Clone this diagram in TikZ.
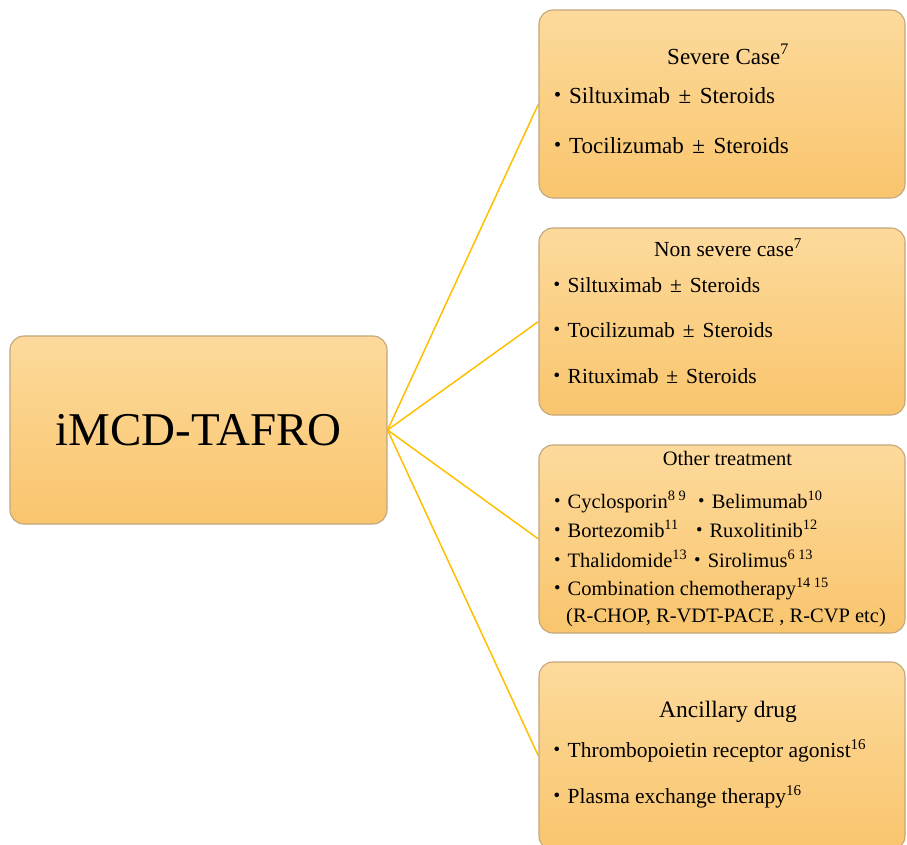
\documentclass[tikz,border=0pt]{standalone}
\usepackage{fontspec}
\setmainfont{Liberation Serif}
\newfontfamily\cjk{Noto Sans CJK JP}
\usetikzlibrary{backgrounds}
\newcommand\bul{{\cjk ・}}
\newcommand\pmx{\hspace{0.12em}±\hspace{0.12em}}
\definecolor{boxtop}{HTML}{FDDA9C}
\definecolor{boxbot}{HTML}{F9C56D}
\definecolor{boxline}{HTML}{C2A77C}
\definecolor{conn}{HTML}{FFC000}
\tikzset{
  box/.style={draw=boxline, line width=1.1pt, rounded corners=14pt, top color=boxtop, bottom color=boxbot, inner sep=0pt},
  connector/.style={draw=conn, line width=1.5pt},
  ttl/.style={anchor=base, inner sep=0pt},
  itm/.style={anchor=base west, inner sep=0pt},
}
\begin{document}
\begin{tikzpicture}[x=1pt,y=-1pt]
\clip (0,0) rectangle (907,844);
\useasboundingbox (0,0) rectangle (907,844);
% boxes
\node[box, minimum width=377pt, minimum height=188pt] (main) at (198.5,430) {};
\node[box, minimum width=366pt, minimum height=188pt] (b1) at (722,104) {};
\node[box, minimum width=366pt, minimum height=187pt] (b2) at (722,321.5) {};
\node[box, minimum width=366pt, minimum height=188pt] (b3) at (722,539) {};
\node[box, minimum width=366pt, minimum height=188pt] (b4) at (722,756) {};
% connectors behind boxes
\begin{scope}[on background layer]
\fill[white] (0,0) rectangle (907,844);
\draw[connector] (main.east) -- (b1.west);
\draw[connector] (main.east) -- (b2.west);
\draw[connector] (main.east) -- (b3.west);
\draw[connector] (main.east) -- (b4.west);
\end{scope}
% main text
\node[ttl, font=\fontsize{47}{50}\selectfont] (mt) at (198.5,445) {iMCD-TAFRO};
% box 1
\begin{scope}[font=\fontsize{23}{26}\selectfont]
\node[ttl] (t1) at (728,64) {Severe Case\textsuperscript{7}};
\node[itm] (t1a) at (546,103) {\bul Siltuximab \pmx{} Steroids};
\node[itm] (t1b) at (546,153) {\bul Tocilizumab \pmx{} Steroids};
\end{scope}
% box 2
\begin{scope}[font=\fontsize{21.5}{24}\selectfont]
\node[ttl] (t2) at (728,256) {Non severe case\textsuperscript{7}};
\node[itm] (t2a) at (546,292) {\bul Siltuximab \pmx{} Steroids};
\node[itm] (t2b) at (546,337) {\bul Tocilizumab \pmx{} Steroids};
\node[itm] (t2c) at (546,383) {\bul Rituximab \pmx{} Steroids};
\end{scope}
% box 3
\begin{scope}[font=\fontsize{20.5}{23}\selectfont]
\node[ttl] (t3) at (727.5,465) {Other treatment};
\node[itm] (t3a) at (547,508) {\bul Cyclosporin\textsuperscript{8 9} \bul Belimumab\textsuperscript{10}};
\node[itm] (t3b) at (547,537) {\bul Bortezomib\textsuperscript{11}\ \ \bul Ruxolitinib\textsuperscript{12}};
\node[itm] (t3c) at (547,567) {\bul Thalidomide\textsuperscript{13}\bul Sirolimus\textsuperscript{6 13}};
\node[itm] (t3d) at (547,595) {\bul Combination chemotherapy\textsuperscript{14 15}};
\node[itm] (t3e) at (566,622) {(R-CHOP, R-VDT-PACE , R-CVP etc)};
\end{scope}
% box 4
\node[ttl, font=\fontsize{23.5}{26}\selectfont] (t4) at (728,717) {Ancillary drug};
\begin{scope}[font=\fontsize{21.5}{24}\selectfont]
\node[itm] (t4a) at (546,757) {\bul Thrombopoietin receptor agonist\textsuperscript{16}};
\node[itm] (t4b) at (546,803) {\bul Plasma exchange therapy\textsuperscript{16}};
\end{scope}
\end{tikzpicture}
\end{document}
